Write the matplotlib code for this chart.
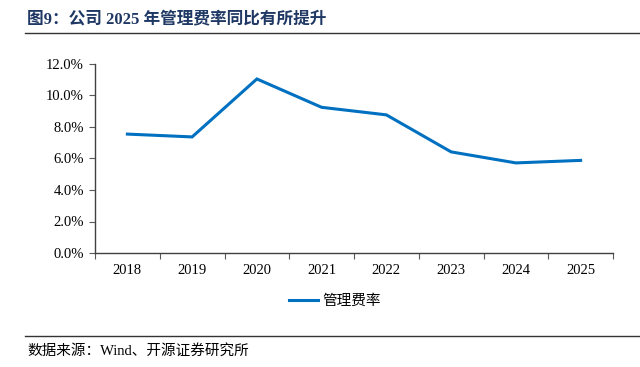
import matplotlib.pyplot as plt
from matplotlib.lines import Line2D
from matplotlib.ticker import FuncFormatter

years = ['2018', '2019', '2020', '2021', '2022', '2023', '2024', '2025']
mgmt_rate = [7.55, 7.37, 11.05, 9.25, 8.77, 6.42, 5.72, 5.88]

plt.rcParams['font.family'] = ['Liberation Serif', 'Noto Sans CJK SC']

fig = plt.figure(figsize=(6.4, 3.67), dpi=100)
ax = fig.add_axes([95 / 640, 1 - 253 / 367, (613 - 95) / 640, (253 - 64) / 367])

x = list(range(len(years)))
ax.plot(x, mgmt_rate, color='#0070C0', linewidth=2.2, solid_joinstyle='miter')
ax.set_xlim(-0.5, len(years) - 0.5)
ax.set_ylim(0, 12)
ax.set_yticks([0, 2, 4, 6, 8, 10, 12])
ax.yaxis.set_major_formatter(FuncFormatter(lambda v, p: f'{v:.1f}%'))
ax.set_xticks([i - 0.5 for i in range(len(years) + 1)])
ax.set_xticklabels([])
ax.set_xticks(x, minor=True)
ax.set_xticklabels(years, minor=True)
ax.tick_params(axis='x', which='minor', length=0, pad=8, labelsize=10.5)
ax.tick_params(axis='x', which='major', length=4, direction='out', color='#595959')
ax.tick_params(axis='y', length=4, direction='out', color='#595959', labelsize=10.5, pad=4)
for s in ['top', 'right']:
    ax.spines[s].set_visible(False)
for s in ['left', 'bottom']:
    ax.spines[s].set_color('#404040')
    ax.spines[s].set_linewidth(1)

# title and rules
fig.text(27 / 640, 1 - 19 / 367, '图9：公司 2025 年管理费率同比有所提升', fontsize=12, fontweight='bold',
         color='#1F3864', va='center', ha='left', family=['Liberation Serif', 'Noto Sans CJK SC'])
fig.add_artist(Line2D([25 / 640, 1], [1 - 33 / 367, 1 - 33 / 367], color='#333333', linewidth=1))
fig.add_artist(Line2D([25 / 640, 1], [1 - 336 / 367, 1 - 336 / 367], color='#333333', linewidth=1))

# legend
handle = Line2D([], [], color='#0070C0', linewidth=2.2)
fig.legend([handle], ['管理费率'], loc='center', bbox_to_anchor=(335 / 640, 1 - 301 / 367),
           frameon=False, handlelength=2.0, handletextpad=0.3,
           prop={'family': ['Noto Sans CJK SC'], 'size': 10.5})

fig.text(27 / 640, 1 - 351 / 367, '数据来源：Wind、开源证券研究所', color='#000000',
         va='center', ha='left', family=['Liberation Serif', 'Noto Sans CJK SC'], fontsize=10.5)

fig.savefig('out.png', dpi=100)
